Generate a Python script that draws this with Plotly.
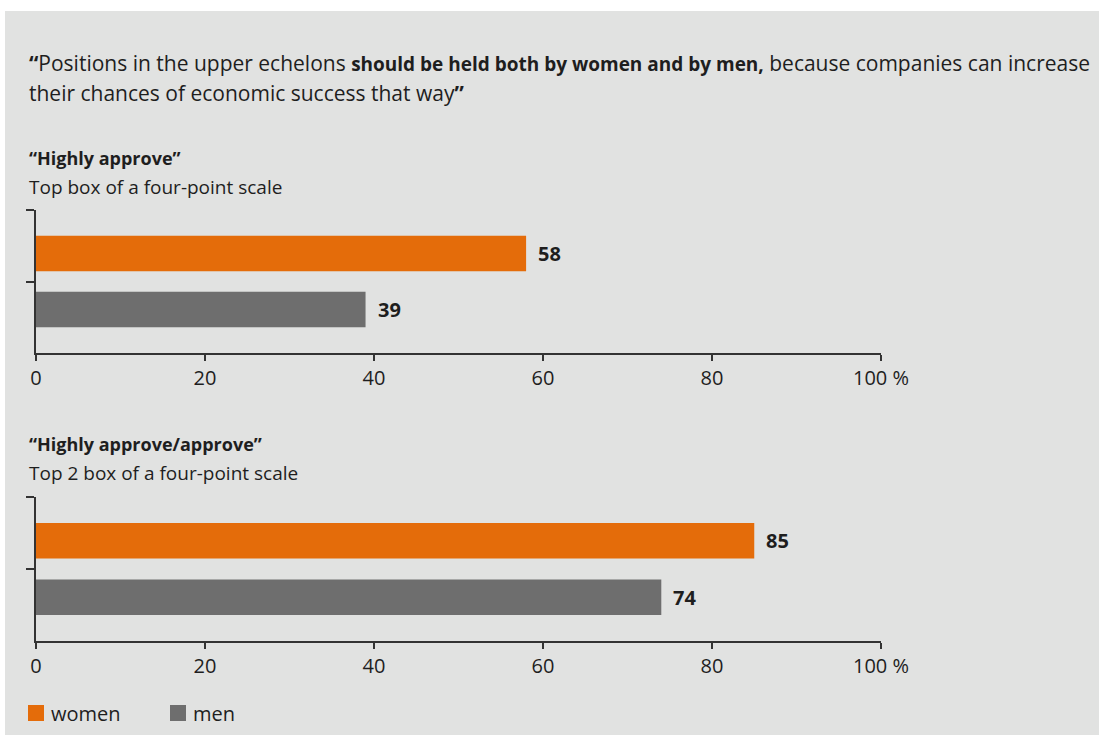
import plotly.graph_objects as go

# Survey data (percent)
groups = ["women", "men"]
highly_approve = [58, 39]
approve_total = [85, 74]
group_colors = ["#e46c0a", "#6e6e6e"]

x_ticks = [0, 20, 40, 60, 80, 100]
x_tick_text = ["0", "20", "40", "60", "80", "100 %"]

FONT = "Open Sans"
TXT = "#1e1e1e"
BG = "#e1e2e1"
AXIS = "#333333"

W, H = 1099, 735


def py(px):
    """Pixel row (from top) to paper y."""
    return 1 - px / H


def pxx(px):
    """Pixel column to paper x."""
    return px / W


fig = go.Figure()

panels = [
    ("x", "y", highly_approve),
    ("x2", "y2", approve_total),
]

for xa, ya, values in panels:
    for i, (g, v, c) in enumerate(zip(groups, values, group_colors)):
        fig.add_trace(go.Bar(
            x=[v], y=[i], orientation="h", width=0.63, name=g,
            marker=dict(color=c, line=dict(width=0)),
            xaxis=xa, yaxis=ya, showlegend=False, hoverinfo="skip",
        ))
        fig.add_annotation(
            x=v, y=i, xref=xa, yref=ya, text=f"<b>{v}</b>",
            showarrow=False, xanchor="left", yanchor="middle", xshift=10,
            font=dict(family=FONT, size=20, color=TXT),
        )

x_dom = [pxx(36), pxx(881)]
y_rng = [1.777, -0.777]

axis_x = dict(
    range=[0, 100], tickvals=x_ticks, ticktext=x_tick_text,
    showline=True, linecolor=AXIS, linewidth=1.5,
    ticks="outside", ticklen=6, tickcolor=AXIS, tickwidth=1.5,
    showgrid=False, zeroline=False, fixedrange=True, automargin=False,
    tickfont=dict(family=FONT, size=20, color=TXT),
)
axis_y = dict(
    range=y_rng, tickvals=[y_rng[1], 0.5], showticklabels=False,
    showline=True, linecolor=AXIS, linewidth=1.5,
    ticks="outside", ticklen=8, tickcolor=AXIS, tickwidth=1.5,
    showgrid=False, zeroline=False, fixedrange=True, automargin=False,
)

shapes = [dict(
    type="rect", xref="paper", yref="paper", layer="below",
    x0=pxx(5), x1=1, y0=0, y1=py(11),
    fillcolor=BG, line=dict(width=0),
)]

# Legend: colour swatch followed by the group name
legend_x = [28, 170]
for g, c, lx in zip(groups, group_colors, legend_x):
    shapes.append(dict(
        type="rect", xref="paper", yref="paper",
        x0=pxx(lx), x1=pxx(lx + 16), y0=py(721), y1=py(705),
        fillcolor=c, line=dict(width=0),
    ))
    fig.add_annotation(
        x=pxx(lx + 21), y=py(713), xref="paper", yref="paper", text=g,
        showarrow=False, xanchor="left", yanchor="middle",
        font=dict(family=FONT, size=20, color=TXT),
    )

fig.update_layout(
    width=W, height=H,
    margin=dict(l=0, r=0, t=0, b=0, pad=0, autoexpand=False),
    paper_bgcolor="white", plot_bgcolor="rgba(0,0,0,0)",
    barmode="overlay", showlegend=False,
    xaxis=dict(axis_x, domain=x_dom, anchor="y"),
    yaxis=dict(axis_y, domain=[py(353), py(210)], anchor="x"),
    xaxis2=dict(axis_x, domain=x_dom, anchor="y2"),
    yaxis2=dict(axis_y, domain=[py(641), py(497)], anchor="x2"),
    shapes=shapes,
)

BOLD = '<span style="font-size:19px"><b>{}</b></span>'
texts = [
    ("<b>“</b>Positions in the upper echelons "
     + BOLD.format("should be held both by women and by men,")
     + " because companies can increase", 63, 21),
    ("their chances of economic success that way<b>”</b>", 93, 21),
    ("<b>“Highly approve”</b>", 158, 18),
    ("Top box of a four-point scale", 187, 19),
    ("<b>“Highly approve/approve”</b>", 444, 18),
    ("Top 2 box of a four-point scale", 473, 19),
]
for t, y, s in texts:
    fig.add_annotation(
        x=pxx(27), y=py(y), xref="paper", yref="paper", text=t,
        showarrow=False, xanchor="left", yanchor="middle", align="left",
        font=dict(family=FONT, size=s, color=TXT),
    )

fig.write_html("out.html")
